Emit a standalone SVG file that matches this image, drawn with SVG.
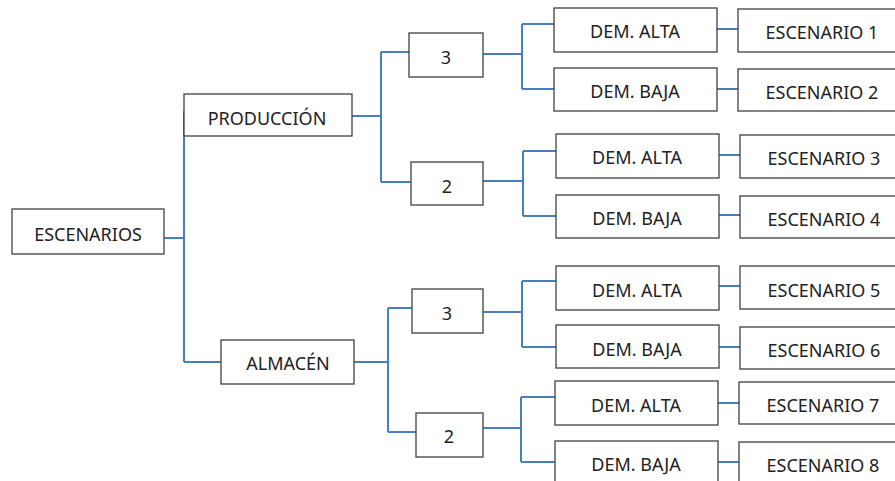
<svg xmlns="http://www.w3.org/2000/svg" width="895" height="481" viewBox="0 0 895 481">
<style>
.b{fill:#fff;stroke:#404040;stroke-width:1.3}
.t{font-family:"Noto Sans","Open Sans",sans-serif;font-size:18px;fill:#222;text-anchor:middle}
.c{fill:none;stroke:#4a7ebf;stroke-width:2}
</style>
<rect width="895" height="481" fill="#fff"/>
<g id="connectors">
<path class="c" d="M164,238H184M184,111V362M184,111H205M184,362H221"/>
<path class="c" d="M352,116H381M381,52V182M381,52H409M381,182H411"/>
<path class="c" d="M354,362H388M388,308V432M388,308H412M388,432H416"/>
<path class="c" d="M483,54H522M522,24V89M522,24H554M522,89H554"/>
<path class="c" d="M483,181H523M523,151V216M523,151H556M523,216H556"/>
<path class="c" d="M483,312H522M522,281V347M522,281H556M522,347H556"/>
<path class="c" d="M483,428H521M521,397V462M521,397H555M521,462H555"/>
<path class="c" d="M717,29H738M717,89H738M719,155H740M719,215H740M719,286H740M719,347H740M718,403H739M718,462H739"/>
</g>
<g id="escenarios"><rect class="b" x="12" y="209" width="152" height="45"/><text class="t" x="88" y="241">ESCENARIOS</text></g>
<g id="produccion"><rect class="b" x="184" y="94" width="168" height="42"/><text class="t" x="267" y="125">PRODUCCIÓN</text></g>
<g id="almacen"><rect class="b" x="221" y="340" width="133" height="44"/><text class="t" x="288" y="370">ALMACÉN</text></g>
<g id="p3"><rect class="b" x="409" y="33" width="74" height="44"/><text class="t" x="446" y="64">3</text></g>
<g id="p2"><rect class="b" x="411" y="162" width="72" height="43"/><text class="t" x="447" y="193">2</text></g>
<g id="a3"><rect class="b" x="412" y="289" width="71" height="44"/><text class="t" x="447" y="320">3</text></g>
<g id="a2"><rect class="b" x="416" y="413" width="67" height="44"/><text class="t" x="449" y="443">2</text></g>
<g id="d1"><rect class="b" x="554" y="8" width="163" height="44"/><text class="t" x="635" y="38">DEM. ALTA</text></g>
<g id="d2"><rect class="b" x="554" y="68" width="163" height="43"/><text class="t" x="635" y="98">DEM. BAJA</text></g>
<g id="d3"><rect class="b" x="556" y="134" width="163" height="44"/><text class="t" x="637" y="164">DEM. ALTA</text></g>
<g id="d4"><rect class="b" x="556" y="195" width="163" height="43"/><text class="t" x="637" y="225">DEM. BAJA</text></g>
<g id="d5"><rect class="b" x="556" y="266" width="163" height="44"/><text class="t" x="637" y="297">DEM. ALTA</text></g>
<g id="d6"><rect class="b" x="556" y="325" width="163" height="43"/><text class="t" x="637" y="356">DEM. BAJA</text></g>
<g id="d7"><rect class="b" x="555" y="381" width="163" height="44"/><text class="t" x="636" y="412">DEM. ALTA</text></g>
<g id="d8"><rect class="b" x="555" y="441" width="163" height="50"/><text class="t" x="636" y="471">DEM. BAJA</text></g>
<g id="e1"><rect class="b" x="738" y="9" width="170" height="43"/><text class="t" x="822" y="39">ESCENARIO 1</text></g>
<g id="e2"><rect class="b" x="738" y="69" width="170" height="42"/><text class="t" x="822" y="99">ESCENARIO 2</text></g>
<g id="e3"><rect class="b" x="740" y="135" width="170" height="43"/><text class="t" x="824" y="165">ESCENARIO 3</text></g>
<g id="e4"><rect class="b" x="740" y="196" width="170" height="42"/><text class="t" x="824" y="226">ESCENARIO 4</text></g>
<g id="e5"><rect class="b" x="740" y="266" width="170" height="43"/><text class="t" x="824" y="297">ESCENARIO 5</text></g>
<g id="e6"><rect class="b" x="740" y="327" width="170" height="42"/><text class="t" x="824" y="357">ESCENARIO 6</text></g>
<g id="e7"><rect class="b" x="739" y="382" width="170" height="42"/><text class="t" x="823" y="412">ESCENARIO 7</text></g>
<g id="e8"><rect class="b" x="739" y="442" width="170" height="50"/><text class="t" x="823" y="472">ESCENARIO 8</text></g>
</svg>
